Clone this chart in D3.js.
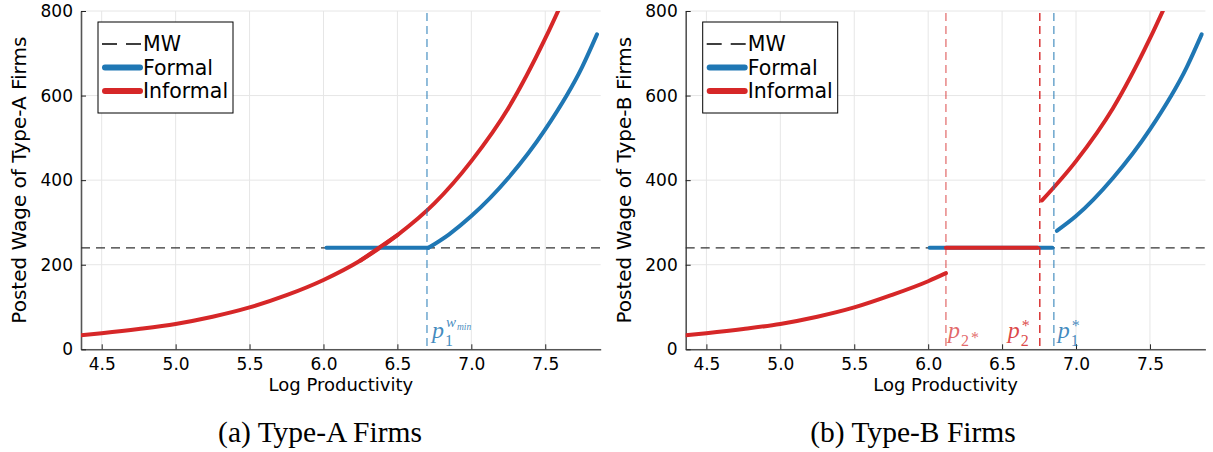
<!DOCTYPE html>
<html>
<head>
<meta charset="utf-8">
<script src="https://cdn.jsdelivr.net/npm/d3@7"></script>
<style>
  body { margin: 0; background: #fff; }
  svg { display: block; }
</style>
</head>
<body>
<svg id="chart" width="1213" height="452"></svg>
<script>
// ticks
const xTicks = [4.5, 5.0, 5.5, 6.0, 6.5, 7.0, 7.5];
const yTicks = [0, 200, 400, 600, 800];
const minWage = 240;

// panel A (Type-A firms)
const aInfP = [4.36, 4.5, 4.75, 5.0, 5.25, 5.5, 5.75, 6.0, 6.25, 6.5, 6.75, 7.0, 7.25, 7.5, 7.6];
const aInfW = [33, 38, 48, 60, 77, 99, 128, 164, 210, 270, 345, 445, 570, 735, 810];
const aFormalFlat = [6.02, 6.71];
const aFormP = [6.71, 6.85, 7.0, 7.25, 7.5, 7.75, 7.85];
const aFormW = [240, 272, 315, 405, 520, 668, 745];
const aCut = 6.70;

// panel B (Type-B firms)
const bInfLowP = [4.36, 4.5, 4.75, 5.0, 5.25, 5.5, 5.75, 6.0, 6.12];
const bInfLowW = [33, 38, 48, 60, 77, 99, 128, 161, 180];
const bInfHighP = [6.77, 7.0, 7.25, 7.5, 7.6];
const bInfHighW = [352, 445, 570, 735, 810];
const bFormP = [6.87, 7.0, 7.25, 7.5, 7.75, 7.85];
const bFormW = [280, 315, 405, 520, 668, 745];
const bFormalFlat = [6.01, 6.84];
const bInformalFlat = [6.12, 6.74];
const bCuts = [6.12, 6.755, 6.85];

const blue = '#1f77b4', red = '#d62728';
const serif = '"Liberation Serif", "DejaVu Serif", serif';
const sans = '"DejaVu Sans", sans-serif';

const svg = d3.select('#chart');
const y = d3.scaleLinear().domain([0, 800]).range([349.3, 11]);

const zip = (ps, ws) => ps.map((p, i) => ({p: p, w: ws[i]}));

function panel(left, yLabel, caption, capX, id) {
  const x = d3.scaleLinear().domain([4.36, 7.875]).range([left, left + 519.7]);
  const g = svg.append('g');

  g.append('clipPath').attr('id', id)
    .append('rect')
    .attr('x', x.range()[0]).attr('y', y(800))
    .attr('width', x.range()[1] - x.range()[0]).attr('height', y(0) - y(800));

  // grid
  g.selectAll('.gx').data(xTicks).enter().append('line')
    .attr('x1', d => x(d)).attr('x2', d => x(d))
    .attr('y1', y(0)).attr('y2', y(800))
    .attr('stroke', '#e6e6e6').attr('stroke-width', 1);
  g.selectAll('.gy').data(yTicks).enter().append('line')
    .attr('x1', x.range()[0]).attr('x2', x.range()[1])
    .attr('y1', d => y(d)).attr('y2', d => y(d))
    .attr('stroke', '#e6e6e6').attr('stroke-width', 1);

  // axes
  const ax = g.append('g')
    .attr('transform', `translate(0, ${y(0)})`)
    .call(d3.axisBottom(x).tickValues(xTicks).tickFormat(d3.format('.1f')).tickSizeInner(-5).tickSizeOuter(0));
  ax.select('.domain').attr('stroke', '#555').attr('stroke-width', 1.6);
  ax.selectAll('.tick line').attr('stroke', '#222');
  ax.selectAll('.tick text').attr('y', 9).attr('dy', '0.71em')
    .attr('font-family', sans).attr('font-size', 17).attr('fill', '#000');

  const ay = g.append('g')
    .attr('transform', `translate(${x.range()[0]}, 0)`)
    .call(d3.axisLeft(y).tickValues(yTicks).tickSizeInner(-5).tickSizeOuter(0));
  ay.select('.domain').attr('stroke', '#555').attr('stroke-width', 1.6);
  ay.selectAll('.tick line').attr('stroke', '#222');
  ay.selectAll('.tick text').attr('x', -8)
    .attr('font-family', sans).attr('font-size', 17).attr('fill', '#000');

  g.append('text')
    .attr('x', (x.range()[0] + x.range()[1]) / 2).attr('y', 391)
    .attr('text-anchor', 'middle')
    .attr('font-family', sans).attr('font-size', 18)
    .text('Log Productivity');

  g.append('text')
    .attr('transform', `translate(${left - 55}, ${(y(0) + y(800)) / 2}) rotate(-90)`)
    .attr('text-anchor', 'middle')
    .attr('font-family', sans).attr('font-size', 20)
    .text(yLabel);

  g.append('text')
    .attr('x', capX).attr('y', 442)
    .attr('text-anchor', 'middle')
    .attr('font-family', serif).attr('font-size', 29.5)
    .text(caption);

  // minimum wage line
  g.append('line')
    .attr('x1', x.range()[0]).attr('x2', x.range()[1])
    .attr('y1', y(minWage)).attr('y2', y(minWage))
    .attr('stroke', '#333').attr('stroke-width', 1.3)
    .attr('stroke-dasharray', '9,6');

  const plot = g.append('g').attr('clip-path', `url(#${id})`);
  return {x: x, g: g, plot: plot};
}

function curve(plot, x, pts, color) {
  const line = d3.line().x(d => x(d.p)).y(d => y(d.w)).curve(d3.curveMonotoneX);
  plot.append('path').datum(pts)
    .attr('d', line)
    .attr('fill', 'none').attr('stroke', color)
    .attr('stroke-width', 4).attr('stroke-linecap', 'round');
}

function vline(g, x, p, color, opacity) {
  g.append('line')
    .attr('x1', x(p)).attr('x2', x(p))
    .attr('y1', y(800) + 2).attr('y2', y(0))
    .attr('stroke', color).attr('stroke-opacity', opacity)
    .attr('stroke-width', 1.4).attr('stroke-dasharray', '8,5');
}

function legend(g, left) {
  const lg = g.append('g').attr('transform', `translate(${left + 17}, 22)`);
  lg.append('rect').attr('width', 135).attr('height', 91)
    .attr('fill', '#fff').attr('stroke', '#000').attr('stroke-width', 1);
  const items = [
    {name: 'MW', color: '#000', w: 1.4, dash: '15,9'},
    {name: 'Formal', color: blue, w: 6, dash: null},
    {name: 'Informal', color: red, w: 6, dash: null}
  ];
  items.forEach((it, i) => {
    const yy = 22 + i * 23.5;
    lg.append('line')
      .attr('x1', it.dash ? 4 : 7).attr('x2', it.dash ? 43 : 42)
      .attr('y1', yy).attr('y2', yy)
      .attr('stroke', it.color).attr('stroke-width', it.w)
      .attr('stroke-linecap', it.dash ? 'butt' : 'round')
      .attr('stroke-dasharray', it.dash);
    lg.append('text')
      .attr('x', 45).attr('y', yy).attr('dy', '0.36em')
      .attr('font-family', sans).attr('font-size', 20.5)
      .text(it.name);
  });
}

function mathLabel(g, xp, color, opacity, sub, sup, subStar) {
  const t = g.append('g').attr('fill', color).attr('fill-opacity', opacity)
    .attr('font-family', serif);
  t.append('text').attr('x', xp).attr('y', 338)
    .attr('font-size', 24).attr('font-style', 'italic').text('p');
  t.append('text').attr('x', xp + 13).attr('y', 346)
    .attr('font-size', 16).text(sub);
  if (subStar) {
    t.append('text').attr('x', xp + 23).attr('y', 343)
      .attr('font-size', 16).text('*');
  }
  if (sup === '*') {
    t.append('text').attr('x', xp + 14).attr('y', 331)
      .attr('font-size', 16).text('*');
  } else if (sup) {
    t.append('text').attr('x', xp + 14).attr('y', 327)
      .attr('font-size', 15).attr('font-style', 'italic').text('w');
    t.append('text').attr('x', xp + 25).attr('y', 330)
      .attr('font-size', 9.5).attr('font-style', 'italic').text('min');
  }
}

// ---- panel A
const A = panel(81, 'Posted Wage of Type-A Firms', '(a) Type-A Firms', 320, 'clipA');
vline(A.g, A.x, aCut, blue, 0.7);
curve(A.plot, A.x, zip(aInfP, aInfW), red);
curve(A.plot, A.x, aFormalFlat.map(p => ({p: p, w: minWage})), blue);
curve(A.plot, A.x, zip(aFormP, aFormW), blue);
curve(A.plot, A.x, zip(aInfP, aInfW).filter(d => d.p >= 6.25 && d.p <= 6.5), red);
legend(A.g, 81);
mathLabel(A.g, A.x(aCut) + 5, blue, 0.85, '1', 'wmin', false);

// ---- panel B
const B = panel(685.7, 'Posted Wage of Type-B Firms', '(b) Type-B Firms', 913, 'clipB');
vline(B.g, B.x, bCuts[0], red, 0.6);
vline(B.g, B.x, bCuts[1], red, 1);
vline(B.g, B.x, bCuts[2], blue, 0.7);
curve(B.plot, B.x, zip(bInfLowP, bInfLowW), red);
curve(B.plot, B.x, bFormalFlat.map(p => ({p: p, w: minWage})), blue);
curve(B.plot, B.x, bInformalFlat.map(p => ({p: p, w: minWage})), red);
curve(B.plot, B.x, zip(bInfHighP, bInfHighW), red);
curve(B.plot, B.x, zip(bFormP, bFormW), blue);
legend(B.g, 685.7);
mathLabel(B.g, B.x(bCuts[0]) + 2, red, 0.7, '2', null, true);
mathLabel(B.g, B.x(bCuts[1]) - 32, red, 0.85, '2', '*', false);
mathLabel(B.g, B.x(bCuts[2]) + 4, blue, 0.85, '1', '*', false);
</script>
</body>
</html>
